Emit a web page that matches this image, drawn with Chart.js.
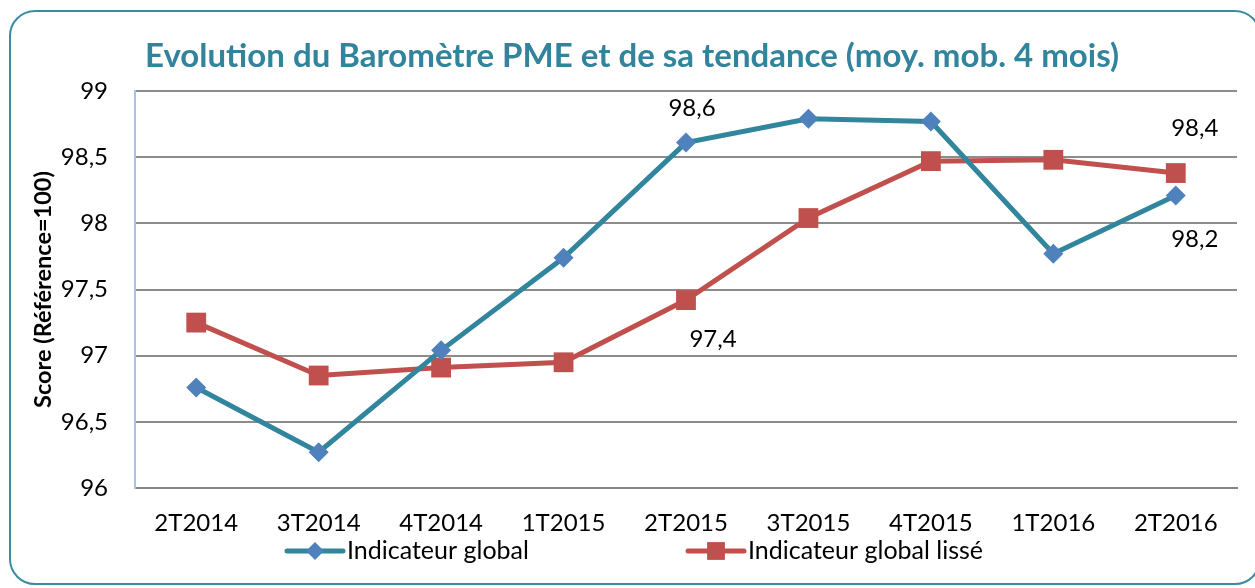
<!DOCTYPE html>
<html>
<head>
<meta charset="utf-8">
<script src="https://cdn.jsdelivr.net/npm/chart.js@4/dist/chart.umd.min.js"></script>
<style>
  html, body { margin: 0; padding: 0; background: #fff; overflow: hidden; }
  #wrap { position: relative; width: 1255px; height: 588px; }
  #frame {
    position: absolute; left: 9px; top: 10px; width: 1252px; height: 575px;
    border: 2px solid #3a8ca3; border-radius: 26px; box-sizing: border-box;
  }
  #c { position: absolute; left: 0; top: 0; }
</style>
</head>
<body>
<div id="wrap">
  <div id="frame"></div>
  <canvas id="c" width="1255" height="588"></canvas>
</div>
<script>
// categories (quarters)
const quarters = ["2T2014", "3T2014", "4T2014", "1T2015", "2T2015", "3T2015", "4T2015", "1T2016", "2T2016"];

// series values
const indicateurGlobal = [96.76, 96.27, 97.04, 97.74, 98.61, 98.79, 98.77, 97.77, 98.21];
const indicateurLisse  = [97.25, 96.85, 96.91, 96.95, 97.42, 98.04, 98.47, 98.48, 98.38];

// y axis
const yMin = 96, yMax = 99, yStep = 0.5;

// which points carry a value label: [datasetIndex, pointIndex, dx, dy]
const valueLabels = [
  [0, 4, 6, -34],
  [1, 4, 27, 39],
  [1, 8, 19, -45],
  [0, 8, 19, 44]
];

const fontFamily = "Lato, 'Open Sans', sans-serif";
const fmt = v => (Number.isInteger(v) ? String(v) : v.toFixed(1).replace(".", ","));

// little labels next to some points
const pointLabels = {
  id: "pointLabels",
  afterDatasetsDraw(chart) {
    const ctx = chart.ctx;
    ctx.save();
    ctx.font = "24px " + fontFamily;
    ctx.fillStyle = "#000";
    ctx.textAlign = "center";
    ctx.textBaseline = "middle";
    valueLabels.forEach(([ds, i, dx, dy]) => {
      const pt = chart.getDatasetMeta(ds).data[i];
      const v = chart.data.datasets[ds].data[i];
      ctx.fillText(fmt(v), pt.x + dx, pt.y + dy);
    });
    ctx.restore();
  }
};

// excel-like legend: line with marker in the middle
const lineLegend = {
  id: "lineLegend",
  afterDraw(chart) {
    const ctx = chart.ctx;
    const startX = 287, colW = 401, y = 551, lineLen = 56;
    ctx.save();
    chart.data.datasets.forEach((ds, k) => {
      const x = startX + k * colW;
      ctx.strokeStyle = ds.borderColor;
      ctx.lineWidth = 5;
      ctx.lineCap = "round";
      ctx.beginPath();
      ctx.moveTo(x, y);
      ctx.lineTo(x + lineLen, y);
      ctx.stroke();
      ctx.fillStyle = ds.pointBackgroundColor;
      ctx.strokeStyle = ds.pointBorderColor;
      Chart.helpers.drawPoint(ctx, {
        pointStyle: ds.pointStyle, radius: ds.pointRadius * 0.9, rotation: 0, borderWidth: 0
      }, x + lineLen / 2, y);
      ctx.fillStyle = "#000";
      ctx.font = "25px " + fontFamily;
      ctx.textAlign = "left";
      ctx.textBaseline = "middle";
      ctx.fillText(ds.label, x + lineLen + 4, y);
    });
    ctx.restore();
  }
};

new Chart(document.getElementById("c"), {
  type: "line",
  data: {
    labels: quarters,
    datasets: [
      {
        label: "Indicateur global",
        data: indicateurGlobal,
        borderColor: "#31859c",
        borderWidth: 5,
        pointStyle: "rectRot",
        pointRadius: 10,
        pointBackgroundColor: "#4f81bd",
        pointBorderColor: "#4f81bd",
        pointBorderWidth: 0,
        tension: 0
      },
      {
        label: "Indicateur global lissé",
        data: indicateurLisse,
        borderColor: "#c0504d",
        borderWidth: 5,
        pointStyle: "rect",
        pointRadius: 14,
        pointBackgroundColor: "#c0504d",
        pointBorderColor: "#c0504d",
        pointBorderWidth: 0,
        tension: 0
      }
    ]
  },
  options: {
    responsive: false,
    animation: false,
    layout: { padding: { left: 27, right: 18, top: 0, bottom: 0 } },
    plugins: {
      legend: { display: false },
      tooltip: { enabled: false },
      title: {
        display: true,
        text: "Evolution du Baromètre PME et de sa tendance (moy. mob. 4 mois)",
        color: "#31849b",
        font: { family: fontFamily, size: 33, weight: "bold", lineHeight: 1.2 },
        padding: { top: 37, bottom: 14.4 }
      }
    },
    scales: {
      x: {
        offset: true,
        grid: { display: false, drawTicks: false },
        border: { display: true, color: "#878787", width: 2 },
        ticks: { color: "#000", font: { family: fontFamily, size: 24 }, padding: 21, maxRotation: 0 },
        afterFit(scale) { scale.height = 100; }
      },
      y: {
        min: yMin,
        max: yMax,
        grid: { color: "#8c8c8c", lineWidth: 2, drawTicks: false },
        border: { display: true, color: "#a9c1e4", width: 2 },
        ticks: {
          stepSize: yStep,
          color: "#000",
          font: { family: fontFamily, size: 24 },
          padding: 27,
          callback: v => fmt(v)
        },
        title: {
          display: true,
          text: "Score (Référence=100)",
          color: "#000",
          font: { family: fontFamily, size: 23.5, weight: "bold", lineHeight: 1.2 },
          padding: { top: 2, bottom: 0 }
        },
        afterFit(scale) { scale.width = 108; }
      }
    }
  },
  plugins: [pointLabels, lineLegend]
});
</script>
</body>
</html>
